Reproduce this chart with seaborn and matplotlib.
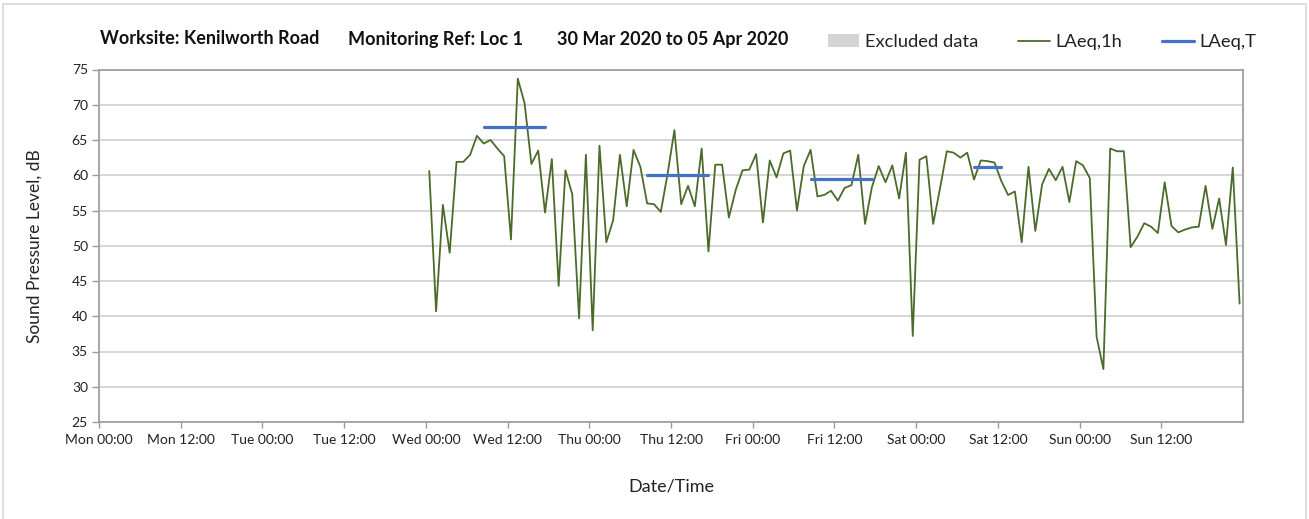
import numpy as np
import pandas as pd
import matplotlib
matplotlib.use("Agg")
import matplotlib.pyplot as plt
import matplotlib.dates as mdates
from matplotlib.patches import Patch, Rectangle
from matplotlib.lines import Line2D
import seaborn as sns

# ---------------- data ----------------
period_start = "2020-03-30 00:00"
period_end = "2020-04-06 00:00"
first_hour = "2020-04-01 00:30"   # hourly LAeq,1h values plotted at mid-hour

laeq_1h = [
    60.6, 40.7, 55.8, 49.0, 61.9, 61.9, 62.9, 65.6, 64.5, 65.0, 63.8, 62.7,
    50.9, 73.7, 70.2, 61.6, 63.5, 54.7, 62.3, 44.3, 60.7, 57.3, 39.7, 62.9,
    38.0, 64.2, 50.5, 53.6, 62.9, 55.6, 63.6, 61.2, 56.0, 55.9, 54.8, 60.2,
    66.4, 55.9, 58.5, 55.6, 63.8, 49.2, 61.5, 61.5, 54.0, 57.9, 60.7, 60.8,
    63.0, 53.3, 62.1, 59.7, 63.1, 63.5, 55.0, 61.3, 63.6, 57.0, 57.2, 57.8,
    56.4, 58.2, 58.6, 62.9, 53.1, 58.3, 61.3, 59.0, 61.4, 56.7, 63.2, 37.2,
    62.2, 62.7, 53.1, 58.1, 63.4, 63.2, 62.5, 63.2, 59.4, 62.1, 62.0, 61.8,
    59.2, 57.2, 57.7, 50.5, 61.2, 52.1, 58.7, 60.9, 59.3, 61.2, 56.2, 62.0,
    61.4, 59.6, 37.1, 32.5, 63.8, 63.4, 63.4, 49.8, 51.3, 53.2, 52.7, 51.8,
    59.0, 52.8, 51.9, 52.3, 52.6, 52.7, 58.5, 52.4, 56.7, 50.1, 61.1, 41.8,
]

laeq_t_start = ["2020-04-01 08:30", "2020-04-02 08:30", "2020-04-03 08:30", "2020-04-04 08:30"]
laeq_t_end = ["2020-04-01 17:30", "2020-04-02 17:30", "2020-04-03 17:30", "2020-04-04 12:30"]
laeq_t_value = [66.8, 60.1, 59.4, 61.2]

title_parts = ["Worksite: Kenilworth Road", "Monitoring Ref: Loc 1", "30 Mar 2020 to 05 Apr 2020"]
legend_labels = ["Excluded data", "LAeq,1h", "LAeq,T"]
y_ticks = [25, 30, 35, 40, 45, 50, 55, 60, 65, 70, 75]

# ---------------- frames ----------------
times = pd.date_range(first_hour, periods=len(laeq_1h), freq="h")
df1 = pd.DataFrame({"time": times, "level": laeq_1h})

rows = []
for k, (s, e, v) in enumerate(zip(laeq_t_start, laeq_t_end, laeq_t_value)):
    rows.append({"time": pd.Timestamp(s), "level": v, "seg": k})
    rows.append({"time": pd.Timestamp(e), "level": v, "seg": k})
dft = pd.DataFrame(rows)

# ---------------- style ----------------
sns.set_style("white")
plt.rcParams["font.family"] = ["Lato", "DejaVu Sans"]

W, H = 1309, 519
fig = plt.figure(figsize=(W / 100, H / 100), dpi=100)
ax = fig.add_axes([99 / W, 1 - 422 / H, (1243 - 99) / W, (422 - 69.5) / H])

green = "#4a6b2a"
blue = "#4472c4"

sns.lineplot(data=df1, x="time", y="level", ax=ax, color=green, linewidth=1.3)
sns.lineplot(data=dft, x="time", y="level", units="seg", estimator=None, ax=ax,
             color=blue, linewidth=2.3)

x0, x1 = pd.Timestamp(period_start), pd.Timestamp(period_end)
ax.set_xlim(x0, x1)
ax.set_ylim(25, 75)
ax.set_yticks(y_ticks)

tick_times = pd.date_range(x0, x1, freq="12h")[:-1]
ax.set_xticks(list(tick_times))
ax.set_xticklabels([t.strftime("%a %H:%M") for t in tick_times])
ax.xaxis.set_minor_locator(mdates.DayLocator())

ax.grid(False)
ax.yaxis.grid(True, color="#d0d0d0", linewidth=1.2)
ax.xaxis.grid(True, which="minor", color="#dcdcdc", linewidth=1.2)
ax.set_axisbelow(True)

ax.tick_params(axis="x", which="major", length=4, width=1, color="#999999",
               labelsize=10, labelcolor="#222222", pad=5, direction="out")
ax.tick_params(axis="x", which="minor", length=0)
ax.tick_params(axis="y", length=5, width=1, color="#999999",
               labelsize=10, labelcolor="#222222", pad=3, direction="out")
ax.tick_params(bottom=True, left=True)

for side in ["left", "bottom", "top", "right"]:
    ax.spines[side].set_visible(True)
    ax.spines[side].set_color("#a0a0a0")
    ax.spines[side].set_linewidth(1.3)

ax.set_xlabel("Date/Time", fontsize=13, color="#222222", labelpad=23)
ax.set_ylabel("Sound Pressure Level, dB", fontsize=12.5, color="#222222", labelpad=21)

# title pieces
for xpos, txt in zip([100, 348, 557], title_parts):
    fig.text(xpos / W, 1 - 39 / H, txt, fontsize=13, fontweight="bold",
             color="#111111", ha="left", va="center")

# legend
handles = [
    Patch(facecolor="#d4d4d4", edgecolor="none"),
    Line2D([0], [0], color=green, linewidth=1.3),
    Line2D([0], [0], color=blue, linewidth=2.3),
]
fig.legend(handles, legend_labels, loc="center", bbox_to_anchor=(1042 / W, 1 - 42 / H),
           ncol=3, frameon=False, fontsize=13.2, handlelength=1.7, handletextpad=0.3,
           columnspacing=2.2, labelcolor="#222222")

# outer border
fig.patches.append(Rectangle((3 / W, -0.01), (1306 - 3) / W, 1 - 4 / H + 0.01,
                             transform=fig.transFigure, fill=False,
                             edgecolor="#d8d8d8", linewidth=1.2))

fig.savefig("out.png", dpi=100)
